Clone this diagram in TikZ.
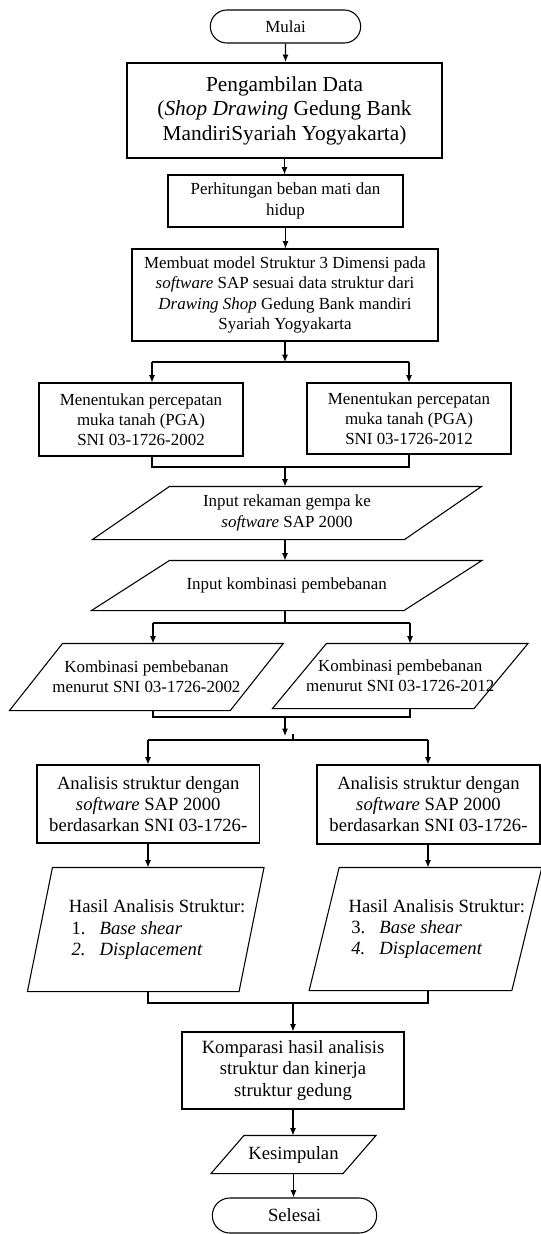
\documentclass[tikz,border=0pt]{standalone}
\usepackage{fontspec}
\setmainfont{Liberation Serif}
\usetikzlibrary{calc,shapes.misc,arrows.meta}
\begin{document}
\begin{tikzpicture}[>={Latex[length=5.5pt,width=4.5pt]},x=0.75pt,y=-0.75pt,line width=0.8pt,
	every node/.style={font=\fontsize{12.7}{15.2}\selectfont,align=center,inner sep=1pt},
	box/.style={draw,rectangle},
	ends/.style={draw,rounded rectangle},
	para/.style={rectangle},
	gross/.style={font=\fontsize{14}{15.8}\selectfont}]
\useasboundingbox (0,0) rectangle (541,1234);

% Mulai bis Modell
\node (mulai) at (285.5,26.5) [ends,minimum width=114.75pt,minimum height=24.75pt] {Mulai};
\node (ambil) at (284.5,110.5) [box,line width=1.6pt,minimum width=236.25pt,minimum height=71.25pt,
	font=\fontsize{16}{18.4}\selectfont] {Pengambilan Data\\(\textit{Shop Drawing} Gedung Bank\\MandiriSyariah Yogyakarta)};
\node (hitung) at (285.5,201) [box,minimum width=176.25pt,minimum height=39pt] {Perhitungan beban mati dan\\hidup};
\node (model) at (285,295) [box,minimum width=229.5pt,minimum height=69pt]
	{Membuat model Struktur 3 Dimensi pada\\\textit{software} SAP sesuai data struktur dari\\\textit{Drawing Shop} Gedung Bank mandiri\\Syariah Yogyakarta};

% PGA
\node (pgaA) at (141,419.5) [box,minimum width=153pt,minimum height=54.75pt] {Menentukan percepatan\\muka tanah (PGA)\\SNI 03-1726-2002};
\node (pgaB) at (409,418.5) [box,minimum width=153pt,minimum height=53.25pt] {Menentukan percepatan\\muka tanah (PGA)\\SNI 03-1726-2012};

% Input
\node (rekam) at (287,513) [para,minimum width=233.25pt,minimum height=39pt] {Input rekaman gempa ke\\\textit{software} SAP 2000};
\node (kombi) at (286.75,585.5) [para,minimum width=233.6pt,minimum height=36.75pt] {Input kombinasi pembebanan};
\node (kombA) at (146.4,677) [para,minimum width=164.8pt,minimum height=49.5pt] {Kombinasi pembebanan\\menurut SNI 03-1726-2002};
\node (kombB) at (400.25,676) [para,minimum width=150.4pt,minimum height=48pt] {Kombinasi pembebanan\\menurut SNI 03-1726-2012};

% Analisis
\node (anaA) at (148.25,804) [box,gross,minimum width=166.9pt,minimum height=58.5pt] {Analisis struktur dengan\\\textit{software} SAP 2000\\berdasarkan SNI 03-1726-};
\node (anaB) at (428.5,804.5) [box,gross,minimum width=167.25pt,minimum height=59.25pt] {Analisis struktur dengan\\\textit{software} SAP 2000\\berdasarkan SNI 03-1726-};
\node (hasilA) at (145.75,929.5) [para,gross,align=left,minimum width=157.9pt,minimum height=92.25pt]
	{\hspace*{17pt}Hasil Analisis Struktur:\\\hspace*{19pt}\makebox[21pt][l]{1.}\textit{Base shear}\\\hspace*{19pt}\makebox[21pt][l]{\textit{2.}}\textit{Displacement}};
\node (hasilB) at (425.5,929) [para,gross,align=left,minimum width=148.5pt,minimum height=91.5pt]
	{\hspace*{17pt}Hasil Analisis Struktur:\\\hspace*{19pt}\makebox[21pt][l]{3.}\textit{Base shear}\\\hspace*{19pt}\makebox[21pt][l]{\textit{4.}}\textit{Displacement}};

% Ende
\node (komp) at (293,1070.5) [box,gross,minimum width=166.5pt,minimum height=57.75pt] {Komparasi hasil analisis\\struktur dan kinerja\\struktur gedung};
\node (simpul) at (293.5,1154.5) [para,gross,minimum width=98.25pt,minimum height=27.75pt] {Kesimpulan};
\node (selesai) at (294.5,1215.5) [ends,gross,minimum width=125.25pt,minimum height=26.25pt] {Selesai};

% Parallelogramme
\foreach \n/\s in {rekam/77,kombi/78,kombA/53,kombB/54,hasilA/25,hasilB/30,simpul/33}
	\draw ($(\n.south west)+(-\s/2,0)$) -- ($(\n.north west)+(\s/2,0)$)
		-- ($(\n.north east)+(\s/2,0)$) -- ($(\n.south east)+(-\s/2,0)$) -- cycle;

% Pfeile oben
\draw[->] (mulai) -- (mulai |- ambil.north);
\draw[->] (ambil) -- (ambil |- hitung.north);
\draw[->] (hitung) -- (hitung |- model.north);

\coordinate (s1) at (285,362);
\coordinate (sA) at (152,362);
\coordinate (sB) at (409,362);
\draw[->] (model) -- (s1);
\draw (sA) -- (sB);
\draw[->] (sA) -- (sA |- pgaA.north);
\draw[->] (sB) -- (sB |- pgaB.north);

\coordinate (m1) at (285,467);
\draw (sA |- pgaA.south) -- (sA |- m1) -- (sB |- m1) -- (sB |- pgaB.south);
\draw[->] (m1) -- (m1 |- rekam.north);
\draw[->] (m1 |- rekam.south) -- (m1 |- kombi.north);

% Kombinasi
\coordinate (s2) at (285,623);
\coordinate (tA) at (153,623);
\coordinate (tB) at (410,623);
\draw (s2 |- kombi.south) -- (s2);
\draw (tA) -- (tB);
\draw[->] (tA) -- (tA |- kombA.north);
\draw[->] (tB) -- (tB |- kombB.north);

\coordinate (m2) at (285,717);
\draw (tA |- kombA.south) -- (tA |- m2) -- (tB |- m2) -- (tB |- kombB.south);
\coordinate (s3) at (285,736);
\draw[->] (m2) -- (s3);

% Analisis
\coordinate (uA) at (148,740);
\coordinate (uB) at (428,740);
\coordinate (tick) at (293,734);
\draw (uA) -- (uB);
\draw (tick) -- (tick |- uA);
\draw[->] (uA) -- (uA |- anaA.north);
\draw[->] (uB) -- (uB |- anaB.north);
\draw[->] (uA |- anaA.south) -- (uA |- hasilA.north);
\draw[->] (uB |- anaB.south) -- (uB |- hasilB.north);

\coordinate (m3) at (293,1003);
\draw (uA |- hasilA.south) -- (uA |- m3) -- (uB |- m3) -- (uB |- hasilB.south);
\draw[->] (m3) -- (m3 |- komp.north);
\draw[->] (komp) -- (komp |- simpul.north);
\draw[->] (simpul) -- (simpul |- selesai.north);

\end{tikzpicture}
\end{document}
